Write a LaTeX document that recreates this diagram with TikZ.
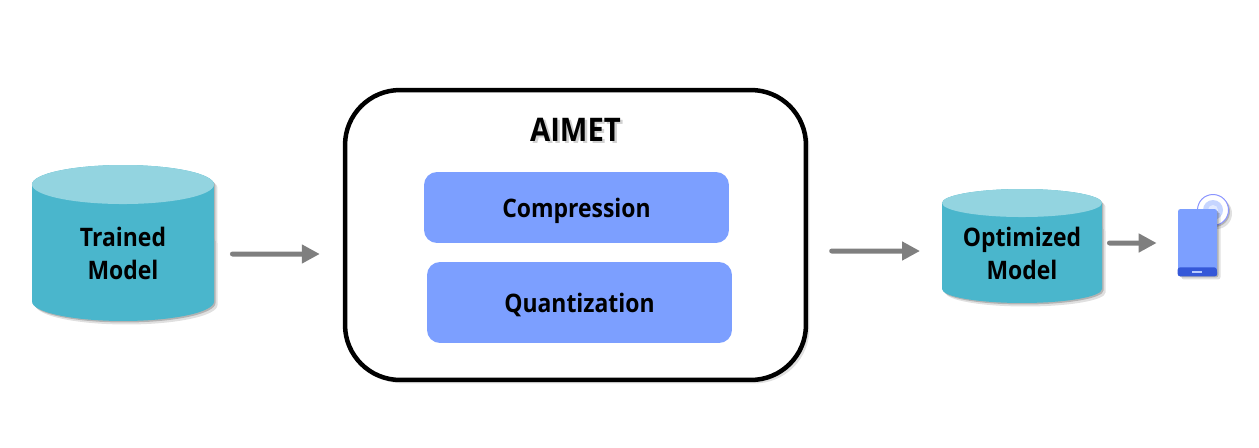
\documentclass[tikz,border=0pt]{standalone}
\usepackage{fontspec}
\setmainfont[FakeStretch=0.9]{Open Sans}
\usetikzlibrary{arrows.meta,shadows}
\definecolor{cylbody}{HTML}{4AB6CC}
\definecolor{cyltop}{HTML}{93D4E0}
\definecolor{boxblue}{HTML}{7C9FFF}
\definecolor{bandblue}{HTML}{3558D8}
\definecolor{ringblue}{HTML}{C6D5FF}
\definecolor{arrowgray}{HTML}{7F7F7F}
\newcommand{\drum}[3]{
\fill [cylbody,softshadow] ([yshift=-#3*0.02cm]#1.north west) -- ([yshift=#3*0.02cm]#1.south west) arc [start angle=180,end angle=360,x radius=#2,y radius=#3] -- ([yshift=-#3*0.02cm]#1.north east) arc [start angle=0,end angle=180,x radius=#2,y radius=#3] -- cycle;
\fill [cyltop] ([yshift=-#3*0.02cm]#1.north) ellipse (#2 and #3);
}
\begin{document}
\begin{tikzpicture}[x=0.02cm,y=0.02cm]
\tikzstyle{every node}+=[inner sep=0pt]
\tikzstyle{boldtext}=[font=\bfseries\fontsize{14.5}{18.7}\selectfont,align=center,text=black]
\tikzstyle{softshadow}=[drop shadow={shadow xshift=0.03cm,shadow yshift=-0.03cm,opacity=0.2,fill=black},drop shadow={shadow xshift=0.07cm,shadow yshift=-0.07cm,opacity=0.12,fill=black}]
\tikzstyle{db}=[rectangle,outer sep=0pt]
\tikzstyle{block}=[rectangle,fill=boxblue,rounded corners=0.26cm,minimum width=6.1cm,text height=0.38cm,text depth=0pt,boldtext]
\tikzstyle{flow}=[draw=arrowgray,line width=0.1cm,line cap=round,-{Triangle[length=0.36cm,width=0.36cm]}]

\useasboundingbox (0,0) rectangle (1259,-447);

\node [db,minimum width=3.64cm,minimum height=3.12cm] (trained) at (123,-243) {};
\drum{trained}{91}{19.5}
\node [boldtext] (trainedtext) at (123,-253.5) {Trained\\Model};
\node [db,minimum width=3.2cm,minimum height=2.28cm] (optimized) at (1022,-246) {};
\drum{optimized}{80}{14}
\node [boldtext] (optimizedtext) at (1022,-253.5) {Optimized\\Model};

\node [rectangle,draw=black,fill=white,line width=0.09cm,rounded corners=1.1cm,minimum width=9.22cm,minimum height=5.8cm,softshadow] (aimet) at (575.5,-235) {};
\node [boldtext,font=\bfseries\fontsize{18.5}{22}\selectfont,anchor=base] (title) at (575.5,-141) {\rlap{\kern0.05cm\raisebox{-0.05cm}{\textcolor{black!18}{AIMET}}}AIMET};
\node [block,minimum height=1.42cm] (compression) at (576.5,-207.5) {Compression};
\node [block,minimum height=1.62cm] (quantization) at (579.5,-302.5) {Quantization};

\draw [fill=white,draw=ringblue!70!blue,line width=0.02cm,softshadow] (1213,-210) circle (15.5);
\fill [ringblue] (1213,-210) circle (10);
\fill [white,opacity=0.5] (1213,-210) circle (5);
\node [rectangle,fill=boxblue,rounded corners=0.05cm,minimum width=0.78cm,minimum height=1.34cm,softshadow] (phone) at (1197.5,-242.5) {};
\fill [bandblue,rounded corners=0.05cm] (phone.south west) -- ++(0,9) -- ++(39,0) -- (phone.south east) -- cycle;
\fill [ringblue!80!boxblue] (1192,-270.5) rectangle (1202,-272.5);

\draw [flow] ([xshift=0.37cm,yshift=-0.22cm]trained.east) -- ([xshift=-0.46cm,yshift=-0.38cm]aimet.west);
\draw [flow] ([xshift=0.47cm,yshift=-0.32cm]aimet.east) -- ([xshift=-0.44cm,yshift=-0.1cm]optimized.west);
\draw [flow] ([xshift=0.15cm,yshift=0.06cm]optimized.east) -- ([xshift=-0.42cm,yshift=-0.01cm]phone.west);
\end{tikzpicture}
\end{document}
